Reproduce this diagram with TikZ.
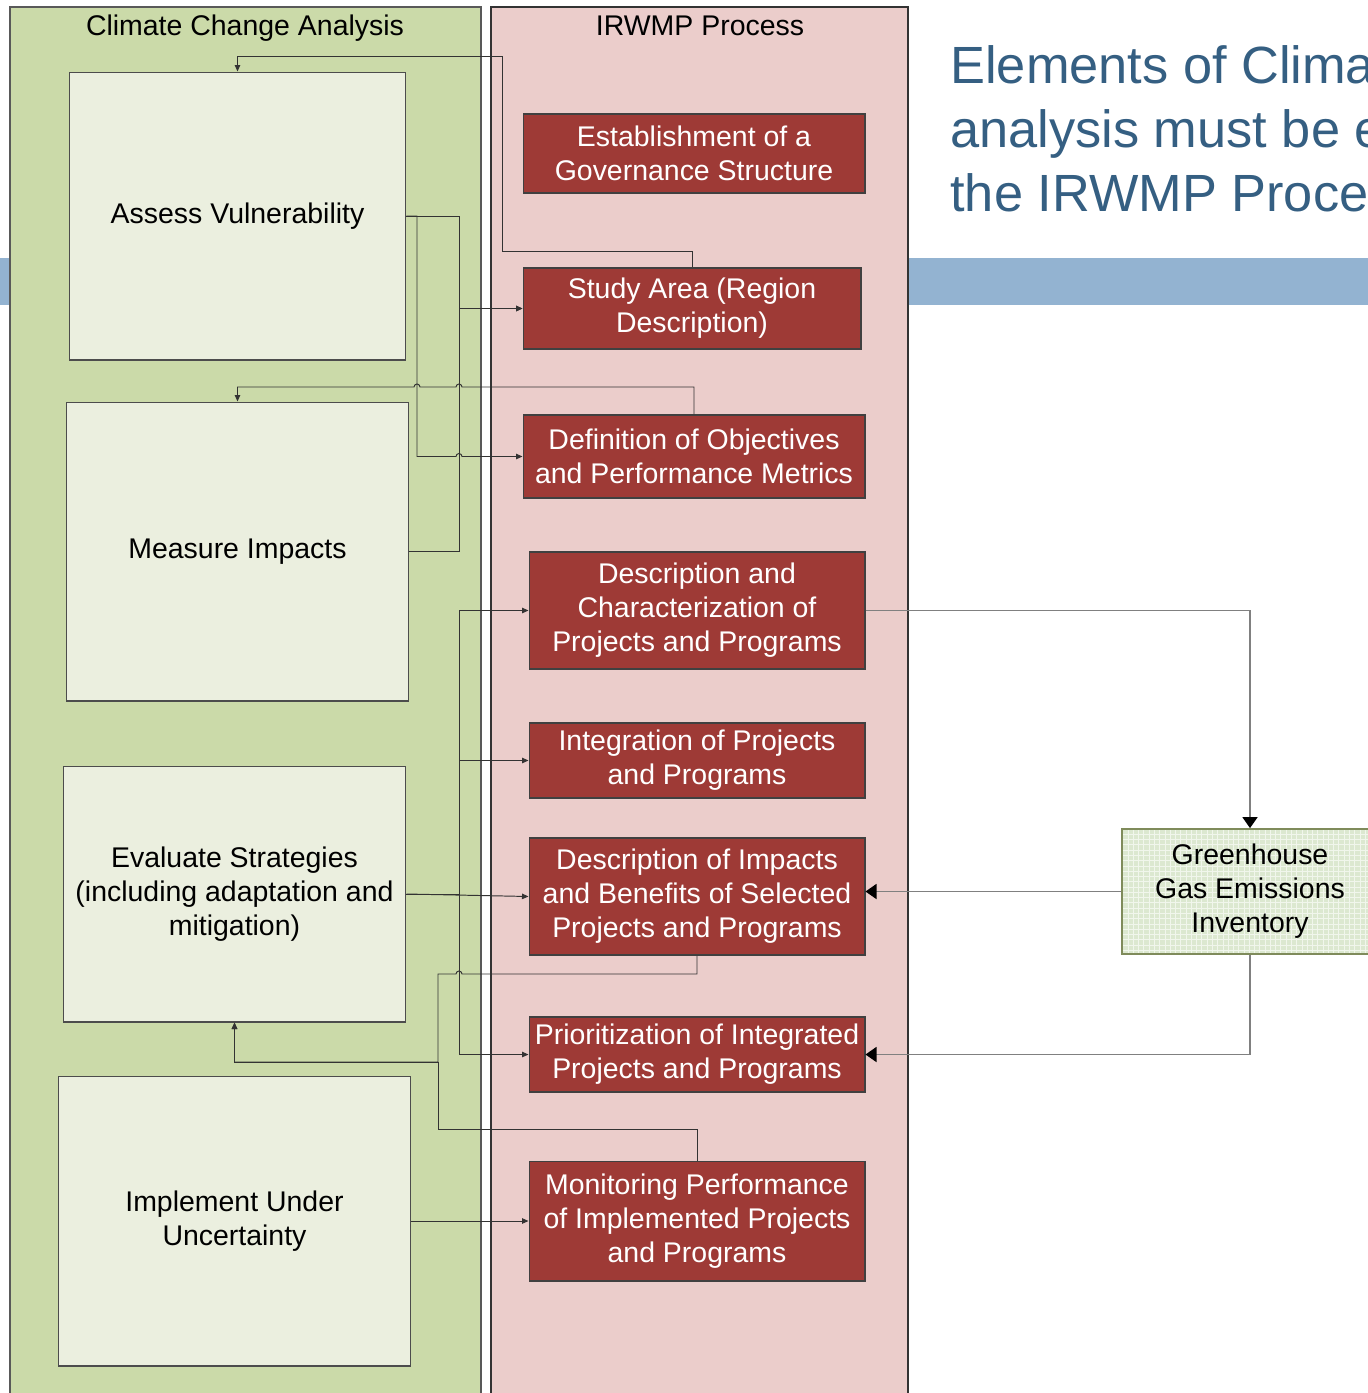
\documentclass[tikz,border=0pt]{standalone}
\usepackage{fontspec}
\setmainfont{Liberation Sans}
\usetikzlibrary{arrows.meta,calc,patterns}
\definecolor{ccgreen}{HTML}{CBDAA9}
\definecolor{irpink}{HTML}{EBCDCB}
\definecolor{stepfill}{HTML}{EBEFDF}
\definecolor{irred}{HTML}{9E3A36}
\definecolor{ghgfill}{HTML}{DCE8D0}
\definecolor{ghgline}{HTML}{7F8B5B}
\definecolor{bandblue}{HTML}{93B3D1}
\definecolor{titleblue}{HTML}{355F82}
\tikzset{
  ccbox/.style={draw=black!70,fill=stepfill,line width=0.6pt,align=center,inner sep=0pt},
  irbox/.style={draw=black!75,fill=irred,text=white,line width=0.6pt,align=center,inner sep=0pt,minimum width=6.72cm},
  ghgbox/.style={draw=ghgline,line width=1pt,preaction={fill=ghgfill},preaction={pattern=grid,pattern color=white!60!ghgfill},align=center,inner sep=0pt},
  link/.style={draw=black!80,line width=0.55pt,-{Triangle[width=0.11cm,length=0.13cm]}},
  ghglink/.style={draw=black!50,line width=0.8pt,-{Triangle[width=0.3cm,length=0.22cm,color=black,fill=black]}}
}

\begin{document}
\begin{tikzpicture}[x=0.02cm,y=-0.02cm,font=\fontsize{16.2}{19.4}\selectfont]
  \useasboundingbox (0,0) rectangle (1368,1393);
  \clip (0,0) rectangle (1368,1393);
  \fill[bandblue] (0,258) rectangle (1368,305);
  \fill[white] (10,0) rectangle (908,1393);
  \draw[fill=ccgreen,draw=black!65,line width=0.8pt] (10,7) rectangle (481,1400);
  \draw[fill=irpink,draw=black!80,line width=0.8pt] (491,7) rectangle (908,1400);
  \node[anchor=base] (cchead) at (245,35) {Climate Change Analysis};
  \node[anchor=base] (irhead) at (700,35) {IRWMP Process};
  % slide title
  \begin{scope}[font=\fontsize{29.8}{36}\selectfont]
    \node[anchor=base west,inner sep=0pt,text=titleblue] (title1) at (950,83) {Elements of Climate Change};
    \node[anchor=base west,inner sep=0pt,text=titleblue] (title2) at (950,147) {analysis must be embedded in};
    \node[anchor=base west,inner sep=0pt,text=titleblue] (title3) at (950,211) {the IRWMP Process};
  \end{scope}

  % climate change analysis
  \node[ccbox,minimum width=6.74cm,minimum height=5.76cm] (av) at (237.5,216) {Assess Vulnerability};
  \node[ccbox,minimum width=6.86cm,minimum height=5.98cm] (mi) at (237.5,551.5) {Measure Impacts};
  \node[ccbox,minimum width=6.86cm,minimum height=5.12cm] (es) at (234.5,894) {Evaluate Strategies\\(including adaptation and\\mitigation)};
  \node[ccbox,minimum width=7.06cm,minimum height=5.8cm] (iu) at (234.5,1221) {Implement Under\\Uncertainty};

  % IRWMP process
  \node[irbox,minimum width=6.84cm,minimum height=1.58cm] (gov) at (694,153.5) {Establishment of a\\Governance Structure};
  \node[irbox,minimum width=6.76cm,minimum height=1.62cm] (area) at (692,308.5) {Study Area (Region\\Description)};
  \node[irbox,minimum width=6.84cm,minimum height=1.66cm] (obj) at (694,456.5) {Definition of Objectives\\and Performance Metrics};
  \node[irbox,minimum height=2.34cm] (char) at (697,610.5) {Description and\\Characterization of\\Projects and Programs};
  \node[irbox,minimum height=1.5cm] (integ) at (697,760.5) {Integration of Projects\\and Programs};
  \node[irbox,minimum height=2.34cm] (impact) at (697,896.5) {Description of Impacts\\and Benefits of Selected\\Projects and Programs};
  \node[irbox,minimum height=1.5cm] (prio) at (697,1054.5) {Prioritization of Integrated\\Projects and Programs};
  \node[irbox,minimum height=2.4cm] (monit) at (697,1221) {Monitoring Performance\\of Implemented Projects\\and Programs};

  \node[ghgbox,minimum width=5.12cm,minimum height=2.5cm] (ghg) at (1250,891.5) {Greenhouse\\Gas Emissions\\Inventory};

  % routing
  \coordinate (busA) at (417,0);
  \coordinate (busB) at (459,0);
  \coordinate (busC) at (438,0);
  \coordinate (turnA) at (502,251);
  \coordinate (topA) at (502,56);
  \coordinate (hopY) at (0,387);
  \coordinate (backY) at (0,974);
  \coordinate (retY) at (0,1062);
  \coordinate (monY) at (0,1129);

  \draw[link] (area.north) |- (turnA) -- (topA) -| (av.north);
  \draw[link] (av.east) -- (av.east -| busB) |- (area.west);
  \draw[link] (mi.east) -- (mi.east -| busB) |- (area.west);
  \draw[link] (av.east) -- (av.east -| busA) |- ($(busB |- obj.west)+(-3,0)$)
    arc[start angle=180,end angle=0,radius=0.06cm] -- (obj.west);
  \draw[link] (obj.north) |- ($(busB |- hopY)+(3,0)$)
    arc[start angle=0,end angle=180,radius=0.06cm] -- ($(busA |- hopY)+(3,0)$)
    arc[start angle=0,end angle=180,radius=0.06cm] -| (mi.north);
  \foreach \t in {char,integ,prio}
    \draw[link] (es.east) -- (es.east -| busB) |- (\t.west);
  \draw[link] (es.east) -- (impact.west);
  \draw[link] (impact.south) |- ($(busB |- backY)+(3,0)$)
    arc[start angle=0,end angle=180,radius=0.06cm] -- (busC |- backY) -- (busC |- retY) -| (es.south);
  \draw[link] (monit.north) |- (busC |- monY) -- (busC |- retY) -| (es.south);
  \draw[link] (iu.east) -- (monit.west);

  \draw[ghglink] (char.east) -| (ghg.north);
  \draw[ghglink] (ghg.west) -- (ghg.west -| impact.east);
  \draw[ghglink] (ghg.south) |- (prio.east);
\end{tikzpicture}
\end{document}
